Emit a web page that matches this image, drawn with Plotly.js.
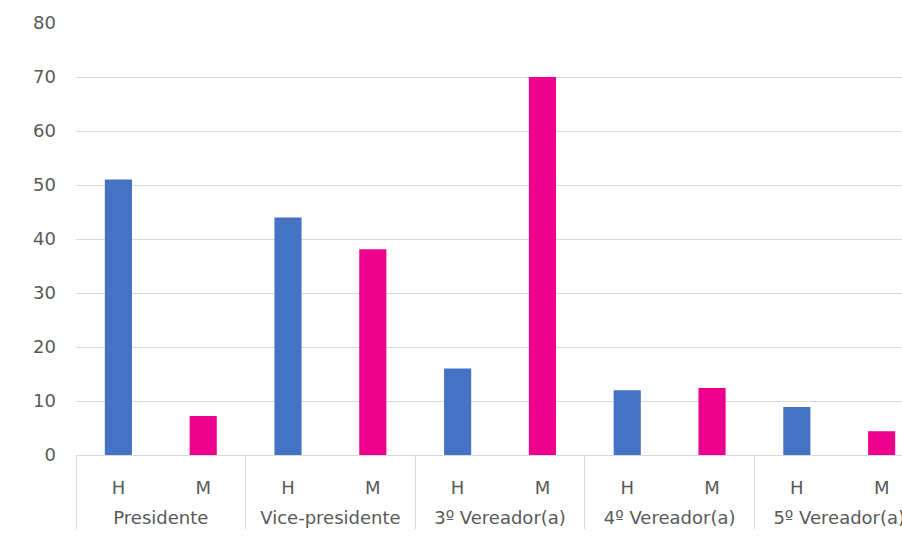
<!DOCTYPE html>
<html>
<head>
<meta charset="utf-8">
<script src="https://cdn.plot.ly/plotly-3.0.1.min.js"></script>
<style>html,body{margin:0;padding:0;background:#fff;}#chart{width:902px;height:544px;}</style>
</head>
<body>
<div id="chart"></div>
<script>
const groups = ["Presidente", "Vice-presidente", "3º Vereador(a)", "4º Vereador(a)", "5º Vereador(a)"];
const sexes = ["H", "M"];
const hValues = [51, 44, 16, 12, 8.9];
const mValues = [7.2, 38.1, 70, 12.4, 4.4];
const yTicks = [0, 10, 20, 30, 40, 50, 60, 70, 80];

const xGroup = [], xSex = [], yVals = [], colors = [];
groups.forEach((g, i) => {
  xGroup.push(g); xSex.push('<br>' + sexes[0] + '<br>\u00a0'); yVals.push(hValues[i]); colors.push('#4472C4');
  xGroup.push(g); xSex.push('<br>' + sexes[1] + '<br>\u00a0'); yVals.push(mValues[i]); colors.push('#EC008C');
});

const trace = {
  type: 'bar',
  x: [xGroup, xSex],
  y: yVals,
  width: 0.32,
  marker: {color: colors},
  hoverinfo: 'y'
};

const layout = {
  width: 902, height: 544,
  margin: {l: 76, r: 0, t: 23, b: 89},
  paper_bgcolor: '#fff', plot_bgcolor: '#fff',
  showlegend: false,
  font: {family: 'DejaVu Sans, Noto Sans, sans-serif', color: '#595959', size: 18},
  xaxis: {
    type: 'multicategory',
    range: [-0.5, 9.24],
    showline: true, linecolor: '#d9d9d9', linewidth: 1,
    showgrid: false,
    ticks: '',
    ticklabelstandoff: -7,
    showdividers: true, dividercolor: '#d9d9d9', dividerwidth: 1,
    tickfont: {size: 18, color: '#595959'},
    automargin: false
  },
  yaxis: {
    range: [0, 80],
    tickvals: yTicks,
    showgrid: true, gridcolor: '#d9d9d9', gridwidth: 1,
    zeroline: true, zerolinecolor: '#d9d9d9',
    ticks: '', ticklabelstandoff: 19,
    tickfont: {size: 18, color: '#595959'},
    automargin: false
  }
};

Plotly.newPlot('chart', [trace], layout, {displayModeBar: false, staticPlot: true});
</script>
</body>
</html>
